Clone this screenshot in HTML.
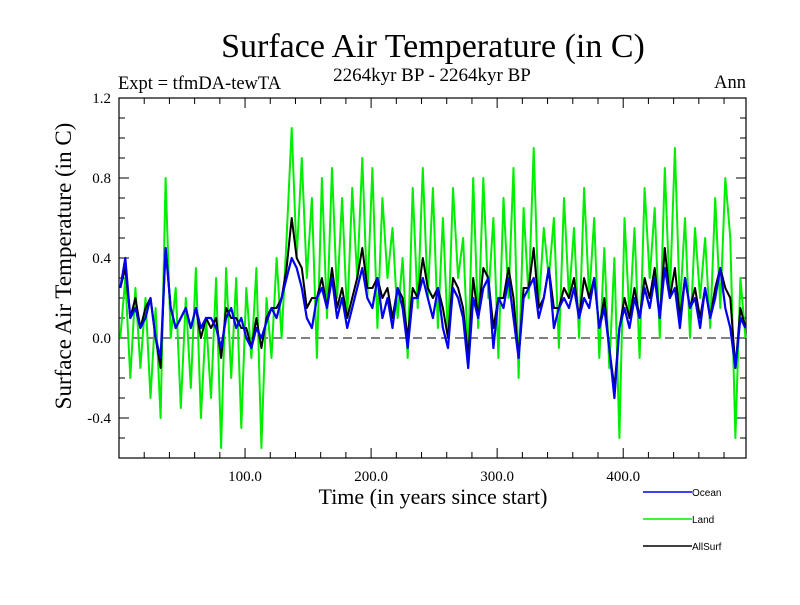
<!DOCTYPE html>
<html><head><meta charset="utf-8"><style>
body{margin:0;background:#fff;width:800px;height:600px;overflow:hidden}
svg text{font-family:"Liberation Serif",serif}
</style></head><body>
<svg id="chart" width="800" height="600">
<text x="433" y="57" font-size="34" text-anchor="middle">Surface Air Temperature (in C)</text>
<text x="118" y="89" font-size="18.5">Expt = tfmDA-tewTA</text>
<text x="432" y="81" font-size="19" text-anchor="middle">2264kyr BP - 2264kyr BP</text>
<text x="746" y="88" font-size="18.5" text-anchor="end">Ann</text>
<text x="433" y="504" font-size="22" text-anchor="middle">Time (in years since start)</text>
<text transform="translate(71,266) rotate(-90)" font-size="23" text-anchor="middle">Surface Air Temperature (in C)</text>
<g id="axes"></g>
<g id="series"></g>
<g id="legend" font-family="Liberation Sans,sans-serif"></g>
</svg>
<script>
const years=[];for(let i=0;i<125;i++)years.push(1+4*i);
const ocean=[0.25,0.4,0.1,0.15,0.05,0.1,0.2,0.0,-0.1,0.45,
0.15,0.05,0.1,0.15,0.05,0.15,0.05,0.1,0.1,0.05,
-0.05,0.1,0.15,0.05,0.1,0.0,-0.05,0.05,0.0,0.08,
0.15,0.1,0.2,0.3,0.4,0.35,0.25,0.1,0.05,0.2,
0.25,0.15,0.3,0.1,0.2,0.05,0.15,0.25,0.35,0.2,
0.15,0.3,0.1,0.2,0.05,0.25,0.15,-0.05,0.2,0.2,
0.3,0.2,0.1,0.25,0.05,-0.05,0.25,0.2,0.1,-0.15,
0.2,0.1,0.25,0.3,-0.05,0.2,0.15,0.3,0.1,-0.1,
0.2,0.25,0.3,0.1,0.2,0.35,0.05,0.15,0.2,0.15,
0.25,0.1,0.2,0.15,0.3,0.05,0.15,-0.05,-0.3,0.05,
0.15,0.05,0.2,0.1,0.25,0.15,0.3,0.1,0.35,0.2,
0.25,0.05,0.3,0.15,0.2,0.05,0.25,0.1,0.2,0.35,
0.15,0.05,-0.15,0.1,0.05];
const land=[0.0,0.3,-0.2,0.25,-0.15,0.2,-0.3,0.15,-0.4,0.8,
0.0,0.25,-0.35,0.2,-0.25,0.35,-0.4,0.1,-0.3,0.3,
-0.55,0.35,-0.2,0.3,-0.45,0.25,-0.1,0.35,-0.55,0.2,
-0.1,0.4,0.0,0.5,1.05,0.4,0.9,0.3,0.7,-0.1,
0.8,0.1,0.85,0.2,0.7,0.1,0.75,0.3,0.9,0.2,
0.85,0.05,0.7,0.3,0.55,0.1,0.4,-0.1,0.75,0.15,
0.85,0.2,0.75,0.05,0.6,0.0,0.75,0.3,0.5,-0.1,
0.8,0.05,0.8,0.2,0.6,-0.1,0.7,0.2,0.85,-0.2,
0.65,0.2,0.95,0.15,0.55,0.3,0.6,-0.05,0.7,0.2,
0.55,0.0,0.75,0.2,0.6,-0.1,0.45,-0.15,0.4,-0.5,
0.6,0.1,0.55,-0.1,0.75,0.3,0.65,0.0,0.85,0.2,
0.95,0.15,0.6,0.0,0.55,0.2,0.5,0.05,0.7,0.15,
0.8,0.5,-0.5,0.3,0.0];
const allsurf=[0.25,0.35,0.1,0.2,0.05,0.15,0.2,0.0,-0.15,0.45,
0.15,0.05,0.1,0.15,0.05,0.15,0.0,0.1,0.05,0.1,
-0.1,0.15,0.1,0.1,0.05,0.05,-0.05,0.1,-0.05,0.1,
0.15,0.15,0.2,0.35,0.6,0.4,0.35,0.15,0.2,0.2,
0.3,0.15,0.35,0.15,0.25,0.1,0.2,0.3,0.45,0.25,
0.25,0.3,0.2,0.25,0.1,0.25,0.2,0.0,0.25,0.2,
0.4,0.25,0.2,0.25,0.15,0.0,0.3,0.25,0.15,-0.1,
0.3,0.1,0.35,0.3,0.05,0.2,0.2,0.35,0.2,-0.1,
0.25,0.25,0.45,0.15,0.2,0.35,0.15,0.15,0.25,0.2,
0.3,0.1,0.3,0.2,0.3,0.05,0.2,-0.05,-0.25,0.05,
0.2,0.1,0.25,0.1,0.3,0.2,0.35,0.1,0.45,0.2,
0.35,0.1,0.3,0.15,0.25,0.1,0.25,0.1,0.25,0.35,
0.25,0.2,-0.15,0.15,0.05];
const xTicks=[100,200,300,400];
const yTicks=[-0.4,0.0,0.4,0.8,1.2];

const L=119,R=746,T=98,B=458;
const X=v=>L+(v-0)*1.2605;
const Y=v=>338-v*200;
const NS="http://www.w3.org/2000/svg";
function mk(tag,attrs,parent){const e=document.createElementNS(NS,tag);for(const k in attrs)e.setAttribute(k,attrs[k]);parent.appendChild(e);return e;}
const axes=document.getElementById('axes');
let f=mk('rect',{x:L,y:T,width:R-L,height:B-T,fill:'none',stroke:'#000','stroke-width':1.2},axes);


let z=mk('line',{x1:L,x2:R,y1:Y(0),y2:Y(0),stroke:'#000','stroke-dasharray':'9,5','stroke-width':1},axes);


for(let t=20;t<500;t+=20){const maj=t%100===0,len=maj?10:6,x=X(t);
 mk('line',{x1:x,x2:x,y1:B,y2:B-len,stroke:'#000'},axes);
 mk('line',{x1:x,x2:x,y1:T,y2:T+len,stroke:'#000'},axes);}
for(let k=-6;k<=12;k++){const v=k/10,maj=k%4===0,len=maj?10:6,y=Y(v);
 mk('line',{x1:L,x2:L+len,y1:y,y2:y,stroke:'#000'},axes);
 mk('line',{x1:R,x2:R-len,y1:y,y2:y,stroke:'#000'},axes);}
xTicks.forEach(t=>{const e=mk('text',{x:X(t),y:481,'font-size':15,'text-anchor':'middle'},axes);e.textContent=t.toFixed(1);
 
 });
yTicks.forEach(v=>{const e=mk('text',{x:111,y:Y(v)+5,'font-size':15,'text-anchor':'end'},axes);e.textContent=v===0?'0.0':String(v);
 
 });
const ser=document.getElementById('series');
function line(arr,color,w,name){const d=arr.map((v,i)=>(i?'L':'M')+X(years[i]).toFixed(1)+','+Y(v).toFixed(1)).join('');
 const p=mk('path',{d:d,fill:'none',stroke:color,'stroke-width':w,'stroke-linejoin':'round'},ser);
 
 }
line(land,'#00ee00',2,'land-line');
line(allsurf,'#000','2','allsurf-line');
line(ocean,'#0000ee',2.2,'ocean-line');
const lg=document.getElementById('legend');
[['Ocean','#0000ee',492],['Land','#00ee00',519],['AllSurf','#000',546]].forEach(([n,c,y])=>{
 const g=mk('g',{},lg);
 
 
 mk('line',{x1:643,x2:692,y1:y,y2:y,stroke:c,'stroke-width':1.5},g);
 const t=mk('text',{x:692,y:y+4,'font-size':10,style:'font-family:Liberation Sans,sans-serif'},g);t.textContent=n;});
</script>
</body></html>
